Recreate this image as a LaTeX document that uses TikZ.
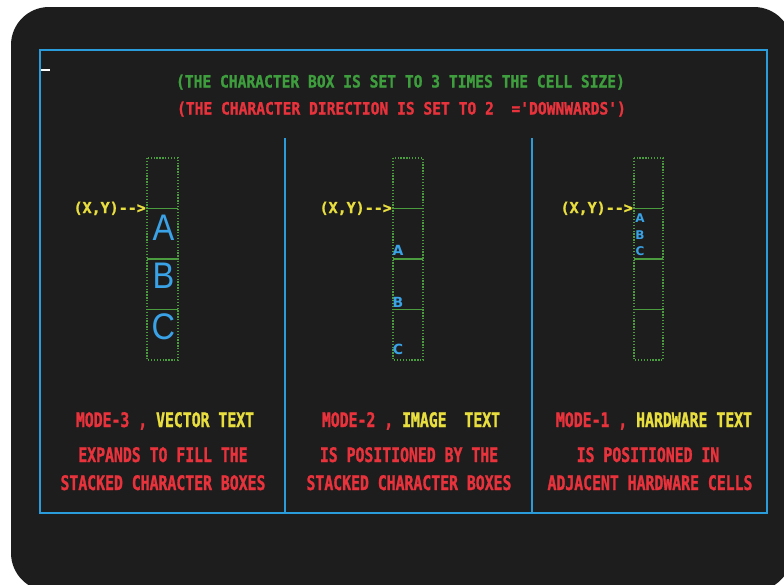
\documentclass[tikz,border=0pt]{standalone}
\usepackage{fontspec}
\usepackage{xcolor}
\newfontfamily\crthead[FakeStretch=0.86,FakeBold=1.2]{DejaVu Sans Mono Bold}
\newfontfamily\crtfoot[FakeStretch=0.74,FakeBold=1.4]{DejaVu Sans Mono Bold}
\newfontfamily\crtlabel[FakeStretch=1.0,FakeBold=1.2]{DejaVu Sans Mono Bold}
\newfontfamily\vecfont[FakeStretch=0.88]{Liberation Sans}
\newfontfamily\imgfont{DejaVu Sans Bold}
\definecolor{screenblack}{HTML}{1D1D1D}
\definecolor{crtblue}{HTML}{2A9BDB}
\definecolor{letterblue}{HTML}{3AA2E6}
\definecolor{crtgreen}{HTML}{3E9E3E}
\definecolor{cellgreen}{HTML}{4A9C3E}
\definecolor{crtred}{HTML}{E8323C}
\definecolor{crtyellow}{HTML}{E8DE3E}

\begin{document}
\begin{tikzpicture}[x=1pt, y=-1pt, every node/.style={inner sep=0pt},
    headline/.style={font=\crthead\fontsize{17}{17}\selectfont, anchor=base},
    footline/.style={font=\crtfoot\fontsize{20}{20}\selectfont, anchor=base, text=crtred},
    xylabel/.style={font=\crtlabel\fontsize{15}{15}\selectfont, anchor=base east, text=crtyellow},
    cellside/.style={draw=cellgreen, line width=1.4pt, dash pattern=on 1.3pt off 1.6pt},
    celledge/.style={draw=cellgreen, line width=1.4pt},
    frameline/.style={draw=crtblue, line width=2.8pt}]
    \useasboundingbox (0,0) rectangle (784,584);

    % Screen
    \fill[white] (0,0) rectangle (784,584);
    \fill[screenblack, rounded corners=38pt] (11,7) rectangle (792,591);
    \draw[white, line width=2.4pt] (40,70) -- (50,70);

    % Blue frame and column dividers
    \draw[frameline] (40,50) rectangle (767,513);
    \draw[frameline] (285,138) -- (285,513);
    \draw[frameline] (532,138) -- (532,513);

    % Header lines
    \node[headline, text=crtgreen] (boxnote) at (400.5,87.5) {(THE CHARACTER BOX IS SET TO 3 TIMES THE CELL SIZE)};
    \node[headline, text=crtred] (dirnote) at (401.5,114.5) {(THE CHARACTER DIRECTION IS SET TO 2~~='DOWNWARDS')};

    % Column 1: vector text
    \draw[cellside] (147,158) rectangle (178,360);
    \draw[celledge] (147,208.5) -- (178,208.5);
    \draw[celledge] (147,259) -- (178,259);
    \draw[celledge] (147,309.5) -- (178,309.5);
    \node[xylabel] (xyvec) at (146,213) {(X,Y)-{}->};
    \node[font=\vecfont\fontsize{37}{37}\selectfont, text=letterblue] (vecA) at (163.5,227.5) {A};
    \node[font=\vecfont\fontsize{37}{37}\selectfont, text=letterblue] (vecB) at (163.5,276) {B};
    \node[font=\vecfont\fontsize{37}{37}\selectfont, text=letterblue] (vecC) at (163.5,327) {C};

    % Column 2: image text
    \draw[cellside] (393,158) rectangle (423,360);
    \draw[celledge] (393,208.5) -- (423,208.5);
    \draw[celledge] (393,259) -- (423,259);
    \draw[celledge] (393,309.5) -- (423,309.5);
    \node[xylabel] (xyimg) at (392,213) {(X,Y)-{}->};
    \node[font=\imgfont\fontsize{14}{14}\selectfont, text=letterblue] (imgA) at (398,250) {A};
    \node[font=\imgfont\fontsize{14}{14}\selectfont, text=letterblue] (imgB) at (398,302) {B};
    \node[font=\imgfont\fontsize{14}{14}\selectfont, text=letterblue] (imgC) at (398,349) {C};

    % Column 3: hardware text
    \draw[cellside] (634,158) rectangle (663,360);
    \draw[celledge] (634,208.5) -- (663,208.5);
    \draw[celledge] (634,259) -- (663,259);
    \draw[celledge] (634,309.5) -- (663,309.5);
    \node[xylabel] (xyhw) at (633,213) {(X,Y)-{}->};
    \node[font=\imgfont\fontsize{12}{12}\selectfont, text=letterblue] (hwA) at (640,218) {A};
    \node[font=\imgfont\fontsize{12}{12}\selectfont, text=letterblue] (hwB) at (640,235) {B};
    \node[font=\imgfont\fontsize{12}{12}\selectfont, text=letterblue] (hwC) at (640,251) {C};

    % Mode captions
    \node[footline] (vecmode) at (165,427) {MODE-3 , \textcolor{crtyellow}{VECTOR TEXT}};
    \node[footline] (vecline1) at (163,462) {EXPANDS TO FILL THE};
    \node[footline] (vecline2) at (163,490) {STACKED CHARACTER BOXES};

    \node[footline] (imgmode) at (411,427) {MODE-2 , \textcolor{crtyellow}{IMAGE~~TEXT}};
    \node[footline] (imgline1) at (409,462) {IS POSITIONED BY THE};
    \node[footline] (imgline2) at (409,490) {STACKED CHARACTER BOXES};

    \node[footline] (hwmode) at (654,427) {MODE-1 , \textcolor{crtyellow}{HARDWARE TEXT}};
    \node[footline] (hwline1) at (648,462) {IS POSITIONED IN};
    \node[footline] (hwline2) at (650,490) {ADJACENT HARDWARE CELLS};
\end{tikzpicture}
\end{document}
